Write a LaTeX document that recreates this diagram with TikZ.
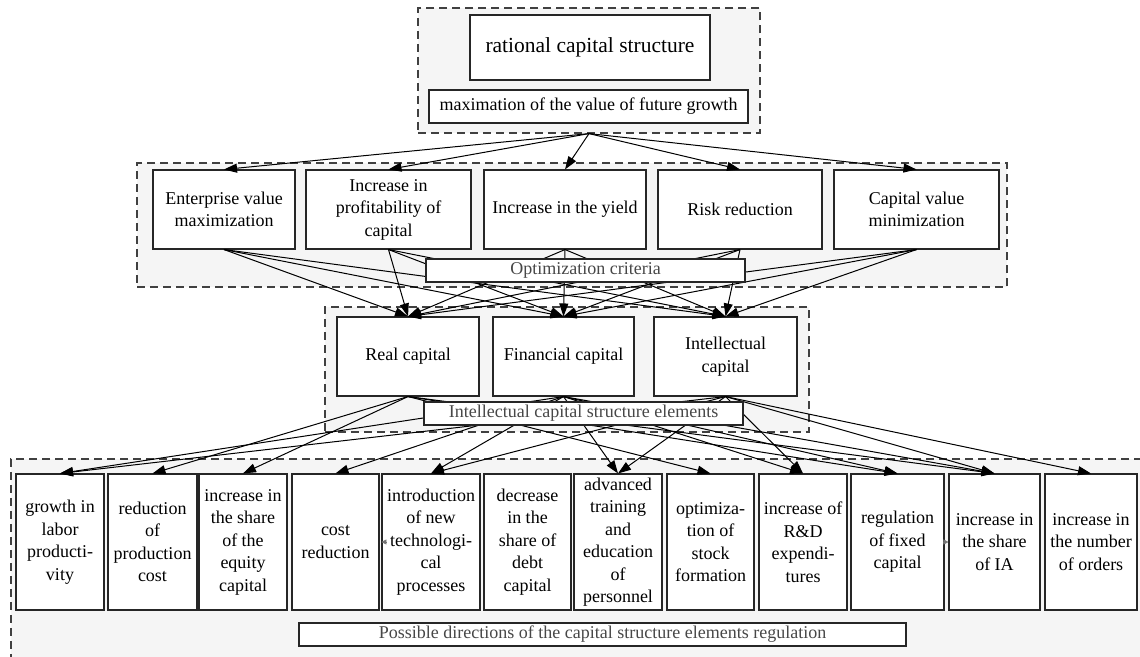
\documentclass[tikz,border=0pt]{standalone}
\usepackage{fontspec}
\setmainfont{Liberation Serif}
\usetikzlibrary{arrows.meta}

\begin{document}
\begin{tikzpicture}[x=1pt,y=-1pt,
  box/.style={draw=black!85,fill=white,line width=1.1pt,align=center,inner sep=1pt,font=\fontsize{18}{22.5}\selectfont},
  caption/.style={box,text=black!72},
  cluster/.style={draw=black!75,dash pattern=on 8pt off 5pt,fill=black!4,line width=1.2pt,inner sep=0pt},
  edge/.style={line width=1pt,-{Triangle[length=13pt,width=9pt]}},
  tiny/.style={draw=black!50,line width=0.5pt,-{Triangle[length=5pt,width=5pt]},black!55}]
\useasboundingbox (0,0) rectangle (1140,656);
\clip (0,0) rectangle (1140,656);

\node[cluster,minimum width=342pt,minimum height=125pt] (top) at (589,70.5) {};
\node[box,minimum width=240pt,minimum height=65pt,font=\fontsize{21.5}{25}\selectfont] (goal) at (590,47.5) {rational capital structure};
\node[box,minimum width=319pt,minimum height=33pt] (growth) at (588.5,106.5) {maximation of the value of future growth};

\node[cluster,minimum width=870pt,minimum height=124pt] (criteria) at (572,225) {};
\node[box,minimum width=142pt,minimum height=79pt] (ent) at (224,209.5) {Enterprise value\\maximization};
\node[box,minimum width=165pt,minimum height=79pt] (prof) at (388.5,209.5) {Increase in\\profitability of\\capital};
\node[box,minimum width=162pt,minimum height=79pt] (yield) at (565,209.5) {Increase in the yield};
\node[box,minimum width=164pt,minimum height=79pt] (risk) at (740,209.5) {Risk reduction};
\node[box,minimum width=165pt,minimum height=79pt] (cval) at (916.5,209.5) {Capital value\\minimization};

\node[cluster,minimum width=484pt,minimum height=125pt] (elements) at (567,369.5) {};
\node[box,minimum width=142pt,minimum height=79pt] (real) at (408,356.5) {Real capital};
\node[box,minimum width=141pt,minimum height=79pt] (fin) at (563.5,356.5) {Financial capital};
\node[box,minimum width=143pt,minimum height=79pt] (intel) at (725.5,356.5) {Intellectual\\capital};

\node[cluster,minimum width=1149pt,minimum height=211pt] (dirs) at (585.5,564.5) {};
\node[box,minimum width=88pt,minimum height=136pt] (b1) at (60,542) {growth in\\labor\\producti-\\vity};
\node[box,minimum width=89pt,minimum height=136pt] (b2) at (152.5,542) {reduction\\of\\production\\cost};
\node[box,minimum width=88pt,minimum height=136pt] (b3) at (243,542) {increase in\\the share\\of the\\equity\\capital};
\node[box,minimum width=87pt,minimum height=136pt] (b4) at (335.5,542) {cost\\reduction};
\node[box,minimum width=98pt,minimum height=136pt] (b5) at (431,542) {introduction\\of new\\technologi-\\cal\\processes};
\node[box,minimum width=87pt,minimum height=136pt] (b6) at (527.5,542) {decrease\\in the\\share of\\debt\\capital};
\node[box,minimum width=88pt,minimum height=136pt] (b7) at (618,542) {advanced\\training\\and\\education\\of\\personnel};
\node[box,minimum width=87pt,minimum height=136pt] (b8) at (710.5,542) {optimiza-\\tion of\\stock\\formation};
\node[box,minimum width=88pt,minimum height=136pt] (b9) at (803,542) {increase of\\R\&D\\expendi-\\tures};
\node[box,minimum width=93pt,minimum height=136pt] (b10) at (897.5,542) {regulation\\of fixed\\capital};
\node[box,minimum width=91pt,minimum height=136pt] (b11) at (994.5,542) {increase in\\the share\\of IA};
\node[box,minimum width=92pt,minimum height=136pt] (b12) at (1091,542) {increase in\\the number\\of orders};

\draw[edge] (top.south) -- (ent.north);
\draw[edge] (top.south) -- (prof.north);
\draw[edge] (top.south) -- (yield.north);
\draw[edge] (top.south) -- (risk.north);
\draw[edge] (top.south) -- (cval.north);

\draw[edge] (ent.south) -- (real.north);
\draw[edge] (ent.south) -- (fin.north);
\draw[edge] (ent.south) -- (intel.north);
\draw[edge] (prof.south) -- (real.north);
\draw[edge] (prof.south) -- (fin.north);
\draw[edge] (prof.south) -- (intel.north);
\draw[edge] (yield.south) -- (real.north);
\draw[edge] (yield.south) -- (fin.north);
\draw[edge] (yield.south) -- (intel.north);
\draw[edge] (risk.south) -- (real.north);
\draw[edge] (risk.south) -- (fin.north);
\draw[edge] (risk.south) -- (intel.north);
\draw[edge] (cval.south) -- (real.north);
\draw[edge] (cval.south) -- (fin.north);
\draw[edge] (cval.south) -- (intel.north);

\draw[edge] (real.south) -- (b2.north);
\draw[edge] (real.south) -- (b3.north);
\draw[edge] (real.south) -- (b8.north);
\draw[edge] (real.south) -- (b10.north);
\draw[edge] (real.south) -- (b11.north);
\draw[edge] (fin.south) -- (b1.north);
\draw[edge] (fin.south) -- (b4.north);
\draw[edge] (fin.south) -- (b5.north);
\draw[edge] (fin.south) -- (b7.north);
\draw[edge] (fin.south) -- (b9.north);
\draw[edge] (fin.south) -- (b10.north);
\draw[edge] (fin.south) -- (b11.north);
\draw[edge] (intel.south) -- (b1.north);
\draw[edge] (intel.south) -- (b5.north);
\draw[edge] (intel.south) -- (b7.north);
\draw[edge] (intel.south) -- (b9.north);
\draw[edge] (intel.south) -- (b11.north);
\draw[edge] (intel.south) -- (b12.north);

\draw[tiny] ([xshift=5pt]b5.west) -- (b5.west);
\draw[tiny] ([xshift=-5pt]b11.west) -- (b11.west);

\node[caption,minimum width=319pt,minimum height=23pt] (optlabel) at (585.5,270.5) {Optimization criteria};
\node[caption,minimum width=319pt,minimum height=23pt] (elemlabel) at (583.5,413.5) {Intellectual capital structure elements};
\node[caption,minimum width=607pt,minimum height=23pt] (dirlabel) at (602.5,634.5) {Possible directions of the capital structure elements regulation};
\end{tikzpicture}
\end{document}
